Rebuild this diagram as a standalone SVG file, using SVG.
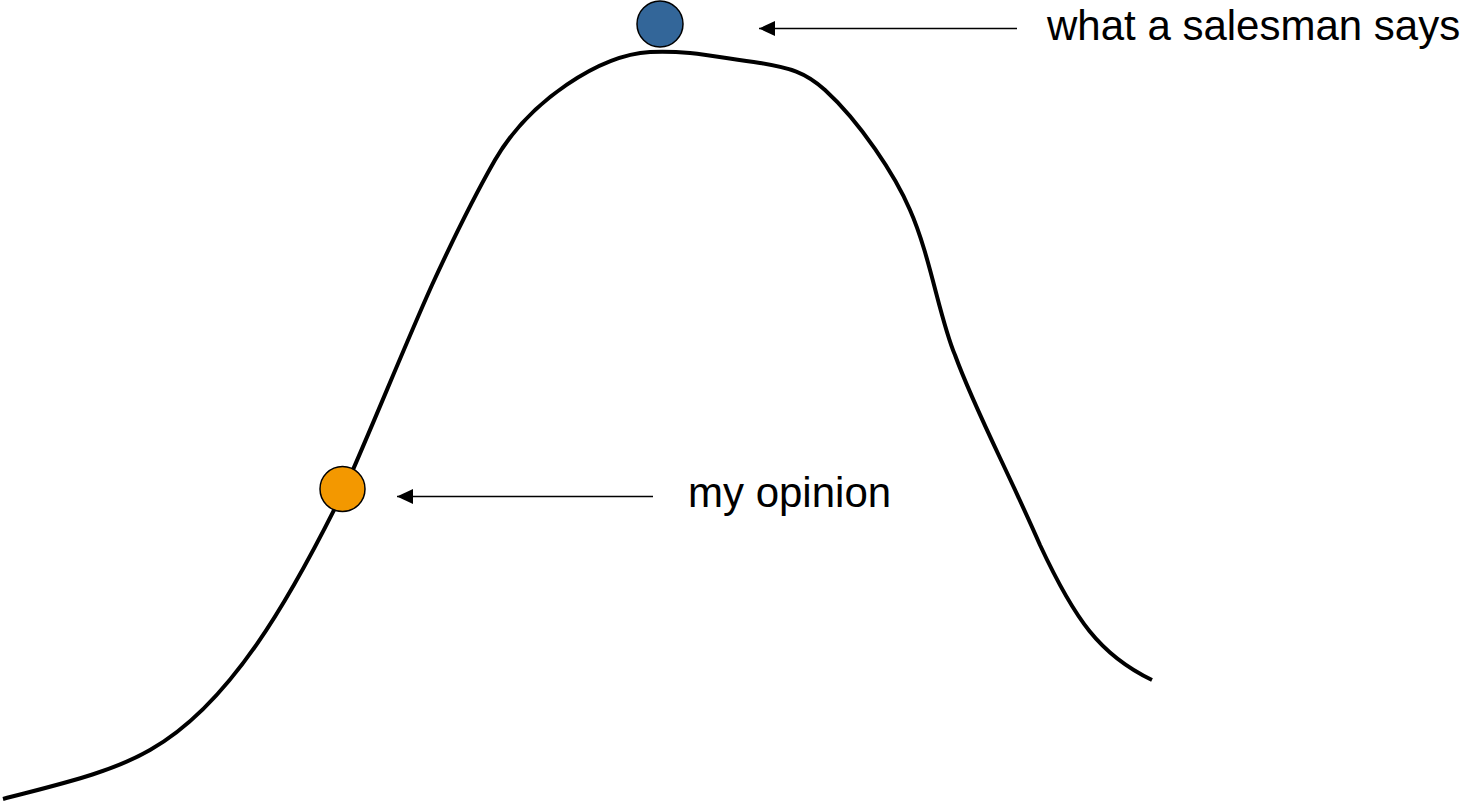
<svg xmlns="http://www.w3.org/2000/svg" width="1465" height="806" viewBox="0 0 1465 806">
<style>
.curve{fill:none;stroke:#000;stroke-width:4;stroke-linejoin:round}
.conn{stroke:#000;stroke-width:1.5;fill:none}
.dot{stroke:#000;stroke-width:1.5}
.lbl{font-family:"Liberation Sans",Arial,sans-serif;font-size:42px;fill:#000}
</style>
<defs>
<marker id="ah" markerUnits="userSpaceOnUse" markerWidth="16" markerHeight="16" refX="16" refY="8" orient="auto">
<path d="M16,8 L0,0.5 L0,15.5 Z" fill="#000"/>
</marker>
</defs>
<rect width="1465" height="806" fill="#fff"/>
<g id="curve">
<path class="curve" d="M3,799 C60,784 110,773 150,750 C230,705 290,600 345,488 C375,420 405,345 432,285 C455,235 475,195 495,160 C530,100 600,55 650,52 C690,50 720,58 760,63 C790,68 805,72 825,90 C860,122 895,175 910,210 C930,255 940,320 955,355 C975,410 1005,465 1040,545 C1075,620 1100,655 1152,680"/>
</g>
<g id="connectors">
<line class="conn" x1="1017" y1="28.5" x2="759" y2="28.5" marker-end="url(#ah)"/>
<line class="conn" x1="653" y1="496.5" x2="397" y2="496.5" marker-end="url(#ah)"/>
</g>
<g id="salesman">
<circle class="dot" cx="660" cy="24" r="23" fill="#336699"/>
<text class="lbl" x="1047" y="40">what a salesman says</text>
</g>
<g id="opinion">
<circle class="dot" cx="342.5" cy="489" r="22.5" fill="#F39800"/>
<text class="lbl" x="688" y="507">my opinion</text>
</g>
</svg>
